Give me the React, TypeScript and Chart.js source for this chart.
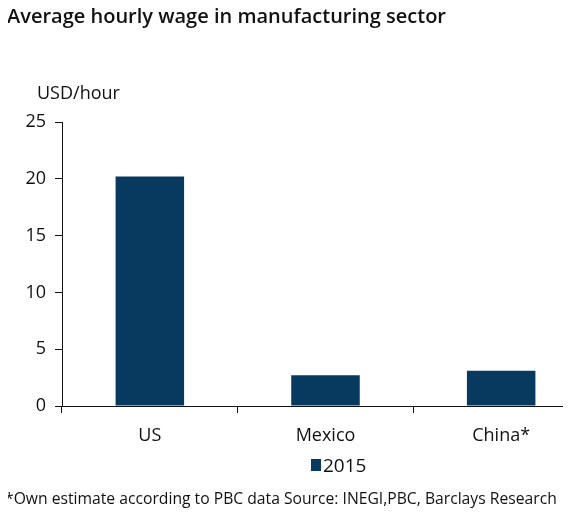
import React, { useEffect, useRef } from "react";
import { Chart, registerables } from "chart.js";

Chart.register(...registerables);

const categories = ["US", "Mexico", "China*"];
const wages2015 = [20.2, 2.7, 3.1];
const seriesLabel = "2015";
const yTicks = [0, 5, 10, 15, 20, 25];
const titleText = "Average hourly wage in manufacturing sector";
const unitText = "USD/hour";
const footnoteText = "*Own estimate according to PBC data Source: INEGI,PBC, Barclays Research";

const BAR_COLOR = "#083a60";
const FONT = "'Open Sans', 'Noto Sans', sans-serif";

export default function App() {
  const ref = useRef<HTMLCanvasElement | null>(null);
  useEffect(() => {
    if (!ref.current) return;
    const textPlugin = {
      id: "texts",
      afterDraw(chart: any) {
        const ctx = chart.ctx;
        ctx.save();
        ctx.fillStyle = "#111";
        ctx.textBaseline = "alphabetic";
        ctx.textAlign = "left";
        ctx.font = `600 20px ${FONT}`;
        ctx.fillText(titleText, 7, 23, 441);
        ctx.font = `18px ${FONT}`;
        ctx.fillText(unitText, 37, 99, 86);
        // legend
        ctx.fillStyle = BAR_COLOR;
        ctx.fillRect(311, 459, 10, 12);
        ctx.fillStyle = "#111";
        ctx.font = `19px ${FONT}`;
        ctx.fillText(seriesLabel, 323, 472, 47);
        ctx.font = `15.7px ${FONT}`;
        ctx.fillText(footnoteText, 5, 504, 552);
        ctx.restore();
      },
    };
    const chart = new Chart(ref.current, {
      type: "bar",
      data: {
        labels: categories,
        datasets: [
          {
            label: seriesLabel,
            data: wages2015,
            backgroundColor: BAR_COLOR,
            barPercentage: 0.39,
            categoryPercentage: 1,
          },
        ],
      },
      options: {
        responsive: false,
        animation: false,
        layout: { padding: { top: 122, left: 0, right: 0, bottom: 0 } },
        plugins: {
          legend: { display: false },
          title: { display: false },
          tooltip: { enabled: false },
        },
        scales: {
          x: {
            grid: { display: true, drawOnChartArea: false, tickLength: 7, color: "#111", offset: true },
            border: { display: true, color: "#111", width: 1 },
            ticks: { color: "#111", font: { family: FONT, size: 18 }, padding: 12 },
            afterFit(scale: any) {
              scale.height = 113;
            },
          },
          y: {
            min: 0,
            max: 25,
            afterBuildTicks(scale: any) {
              scale.ticks = yTicks.map((v) => ({ value: v }));
            },
            grid: { display: true, drawOnChartArea: false, tickLength: 7, color: "#111" },
            border: { display: true, color: "#111", width: 1 },
            ticks: { color: "#111", font: { family: FONT, size: 18 }, padding: 9 },
            afterFit(scale: any) {
              scale.width = 62;
            },
          },
        },
      },
      plugins: [textPlugin],
    });
    return () => chart.destroy();
  }, []);
  return (
    <div style={{ margin: "-8px", width: "571px", height: "519px", overflow: "hidden", background: "#fff" }}>
      <canvas ref={ref} width={589} height={519} style={{ display: "block" }} />
    </div>
  );
}
